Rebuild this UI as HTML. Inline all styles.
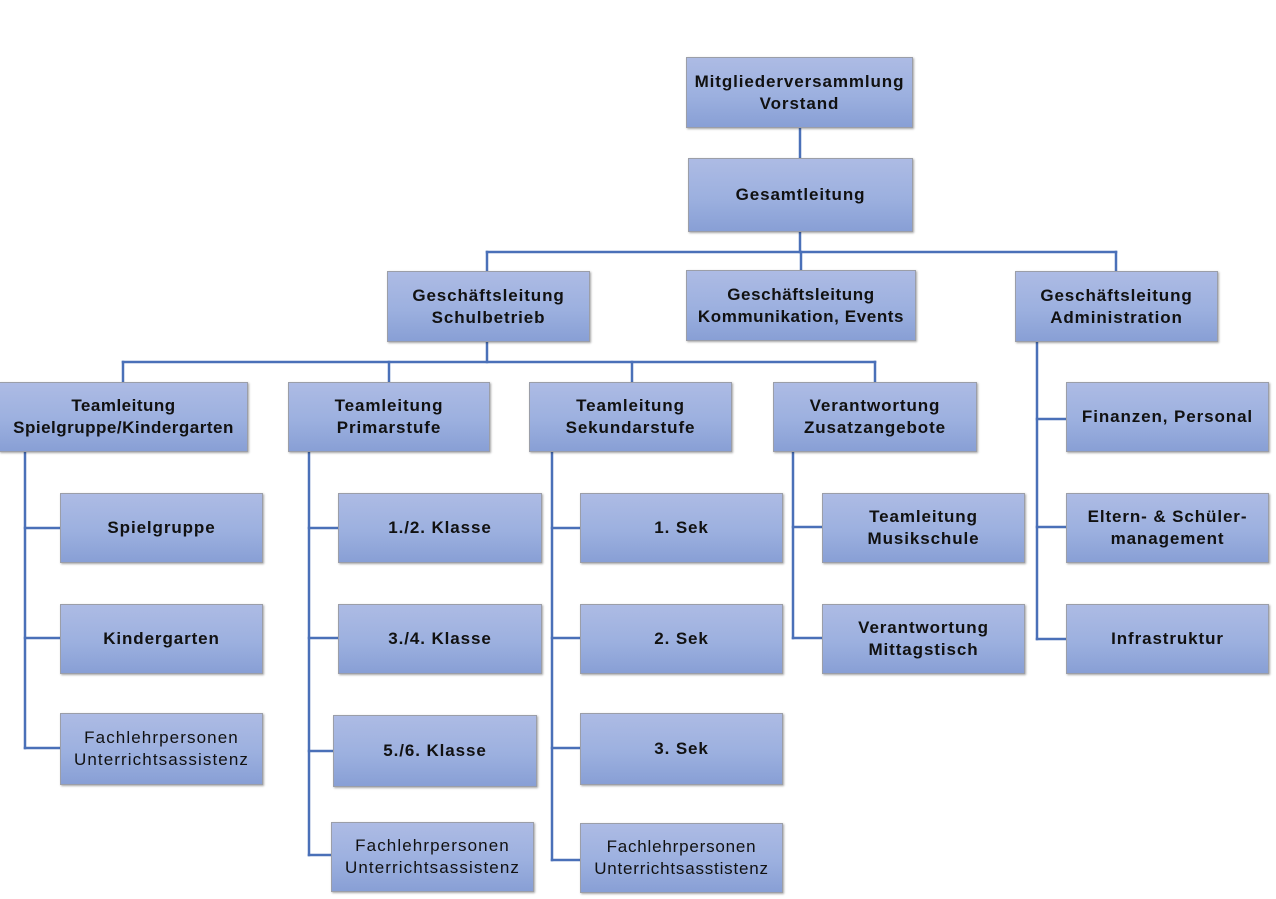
<!DOCTYPE html>
<html>
<head>
<meta charset="utf-8">
<style>
  html, body { margin:0; padding:0; background:#ffffff; }
  body { width:1276px; height:899px; position:relative; overflow:hidden;
         font-family:"Liberation Sans", "DejaVu Sans", sans-serif; }
  svg.lines { position:absolute; left:0; top:0; }
  .b { position:absolute; box-sizing:border-box;
       background:linear-gradient(to bottom, #adbbe4 0%, #9cb0df 55%, #889fd5 100%);
       border:1.5px solid #9b9ea8;
       box-shadow:1px 1px 2px rgba(0,0,0,0.35);
       display:flex; align-items:center; justify-content:center; text-align:center;
       color:#111; font-weight:bold; font-size:17px; line-height:22px;
       letter-spacing:0.9px; white-space:nowrap; }
  .r { font-weight:normal; letter-spacing:1.1px; }
</style>
</head>
<body>
<svg class="lines" width="1276" height="899" viewBox="0 0 1276 899">
  <g stroke="#4a70b8" stroke-width="2.5" fill="none" stroke-linecap="square">
    <line x1="800" y1="128" x2="800" y2="158"/>
    <line x1="800" y1="232" x2="800" y2="252"/>
    <line x1="487" y1="252" x2="1116" y2="252"/>
    <line x1="487" y1="252" x2="487" y2="271"/>
    <line x1="801" y1="252" x2="801" y2="271"/>
    <line x1="1116" y1="252" x2="1116" y2="271"/>
    <line x1="487" y1="342" x2="487" y2="362"/>
    <line x1="123" y1="362" x2="875" y2="362"/>
    <line x1="123" y1="362" x2="123" y2="382"/>
    <line x1="389" y1="362" x2="389" y2="382"/>
    <line x1="632" y1="362" x2="632" y2="382"/>
    <line x1="875" y1="362" x2="875" y2="382"/>
    <!-- Spielgruppe trunk -->
    <line x1="25" y1="452" x2="25" y2="748"/>
    <line x1="25" y1="528" x2="60" y2="528"/>
    <line x1="25" y1="638" x2="60" y2="638"/>
    <line x1="25" y1="748" x2="60" y2="748"/>
    <!-- Primar trunk -->
    <line x1="309" y1="452" x2="309" y2="855"/>
    <line x1="309" y1="528" x2="338" y2="528"/>
    <line x1="309" y1="638" x2="338" y2="638"/>
    <line x1="309" y1="751" x2="333" y2="751"/>
    <line x1="309" y1="855" x2="331" y2="855"/>
    <!-- Sek trunk -->
    <line x1="552" y1="452" x2="552" y2="860"/>
    <line x1="552" y1="528" x2="580" y2="528"/>
    <line x1="552" y1="638" x2="580" y2="638"/>
    <line x1="552" y1="748" x2="580" y2="748"/>
    <line x1="552" y1="860" x2="580" y2="860"/>
    <!-- Zusatz trunk -->
    <line x1="793" y1="452" x2="793" y2="638"/>
    <line x1="793" y1="527" x2="822" y2="527"/>
    <line x1="793" y1="638" x2="822" y2="638"/>
    <!-- Admin trunk -->
    <line x1="1037" y1="342" x2="1037" y2="639"/>
    <line x1="1037" y1="419" x2="1066" y2="419"/>
    <line x1="1037" y1="527" x2="1066" y2="527"/>
    <line x1="1037" y1="639" x2="1066" y2="639"/>
  </g>
</svg>

<div class="b" style="left:686px;top:57px;width:227px;height:71px;">Mitgliederversammlung<br>Vorstand</div>
<div class="b" style="left:688px;top:158px;width:225px;height:74px;">Gesamtleitung</div>

<div class="b" style="left:387px;top:271px;width:203px;height:71px;">Geschäftsleitung<br>Schulbetrieb</div>
<div class="b" style="left:686px;top:270px;width:230px;height:71px;letter-spacing:0.6px;">Geschäftsleitung<br>Kommunikation, Events</div>
<div class="b" style="left:1015px;top:271px;width:203px;height:71px;">Geschäftsleitung<br>Administration</div>

<div class="b" style="left:-1px;top:382px;width:249px;height:70px;letter-spacing:0.5px;">Teamleitung<br>Spielgruppe/Kindergarten</div>
<div class="b" style="left:288px;top:382px;width:202px;height:70px;">Teamleitung<br>Primarstufe</div>
<div class="b" style="left:529px;top:382px;width:203px;height:70px;">Teamleitung<br>Sekundarstufe</div>
<div class="b" style="left:773px;top:382px;width:204px;height:70px;">Verantwortung<br>Zusatzangebote</div>

<div class="b" style="left:60px;top:493px;width:203px;height:70px;">Spielgruppe</div>
<div class="b" style="left:60px;top:604px;width:203px;height:70px;">Kindergarten</div>
<div class="b r" style="left:60px;top:713px;width:203px;height:72px;">Fachlehrpersonen<br>Unterrichtsassistenz</div>

<div class="b" style="left:338px;top:493px;width:204px;height:70px;">1./2. Klasse</div>
<div class="b" style="left:338px;top:604px;width:204px;height:70px;">3./4. Klasse</div>
<div class="b" style="left:333px;top:715px;width:204px;height:72px;">5./6. Klasse</div>
<div class="b r" style="left:331px;top:822px;width:203px;height:70px;">Fachlehrpersonen<br>Unterrichtsassistenz</div>

<div class="b" style="left:580px;top:493px;width:203px;height:70px;">1. Sek</div>
<div class="b" style="left:580px;top:604px;width:203px;height:70px;">2. Sek</div>
<div class="b" style="left:580px;top:713px;width:203px;height:72px;">3. Sek</div>
<div class="b r" style="left:580px;top:823px;width:203px;height:70px;letter-spacing:0.8px;">Fachlehrpersonen<br>Unterrichtsasstistenz</div>

<div class="b" style="left:822px;top:493px;width:203px;height:70px;">Teamleitung<br>Musikschule</div>
<div class="b" style="left:822px;top:604px;width:203px;height:70px;">Verantwortung<br>Mittagstisch</div>

<div class="b" style="left:1066px;top:382px;width:203px;height:70px;">Finanzen, Personal</div>
<div class="b" style="left:1066px;top:493px;width:203px;height:70px;">Eltern- &amp; Schüler-<br>management</div>
<div class="b" style="left:1066px;top:604px;width:203px;height:70px;">Infrastruktur</div>
</body>
</html>
